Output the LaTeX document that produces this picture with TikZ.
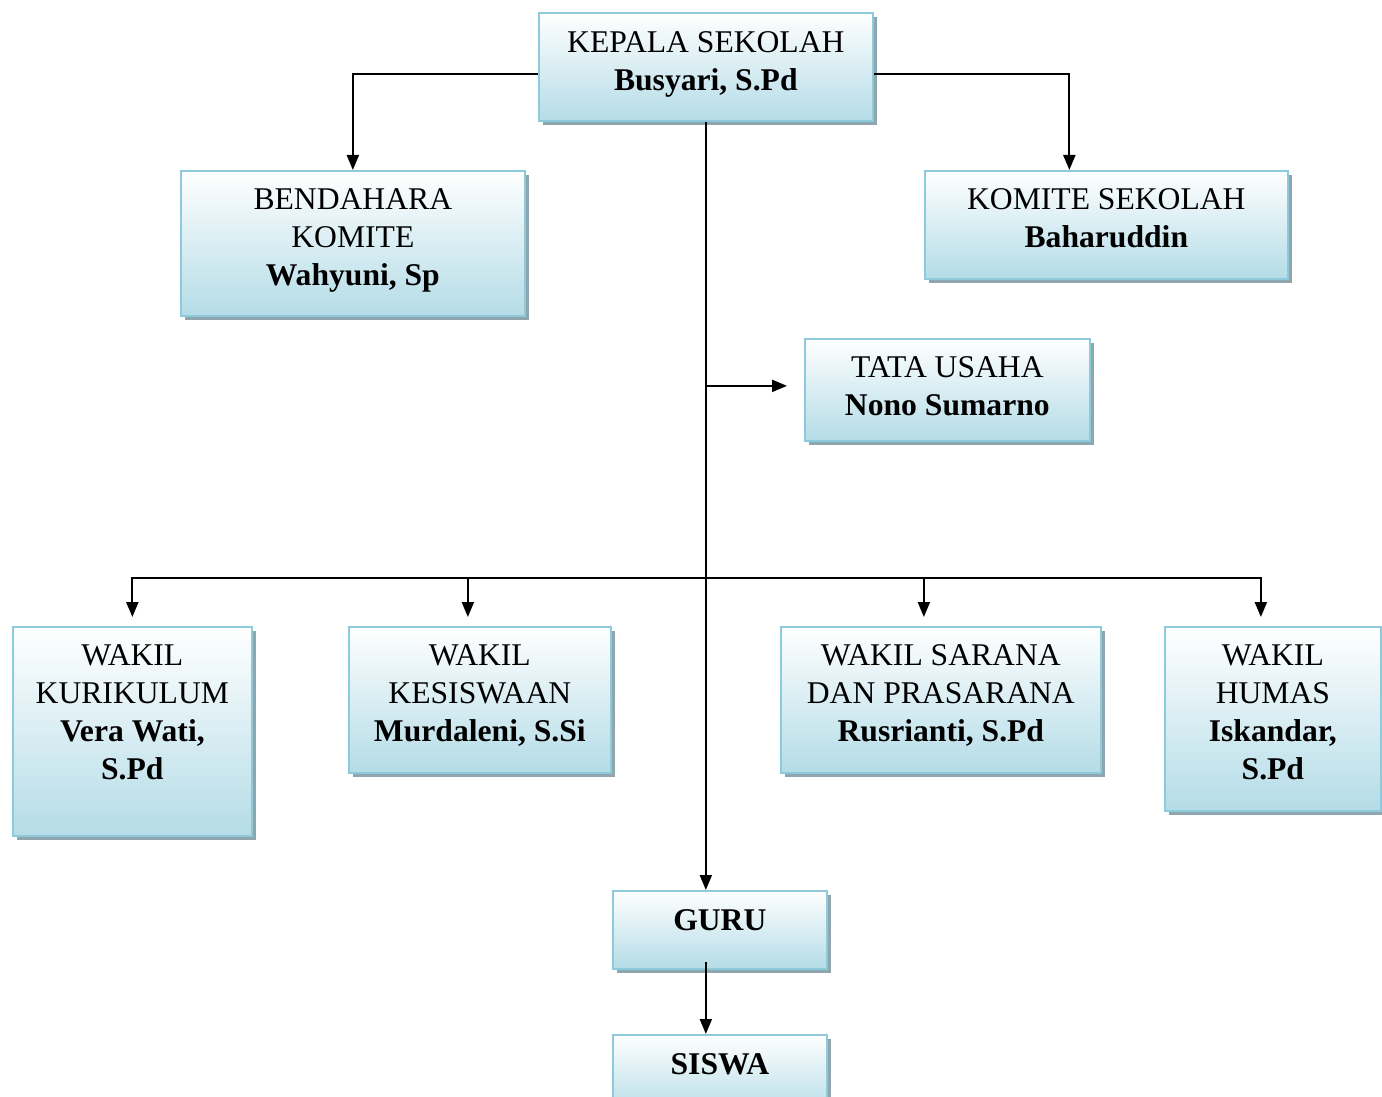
\documentclass[tikz,border=0pt]{standalone}
\usepackage{fontspec}
\setmainfont{Liberation Serif}
\usetikzlibrary{arrows.meta,shadows}
\definecolor{boxblue}{HTML}{B4DCE7}
\definecolor{boxline}{HTML}{8DCADB}
\definecolor{shadowcol}{HTML}{8FA6AF}
\tikzset{
  orgbox/.style={draw=boxline, line width=1pt, top color=white, bottom color=boxblue,
    anchor=north west, inner sep=0pt,
    drop shadow={shadow xshift=0.08cm, shadow yshift=-0.08cm, fill=shadowcol, opacity=1}},
  orgtxt/.style={anchor=north, inner sep=0pt, align=center, yshift=-0.38cm,
    font=\fontsize{18}{21.6}\selectfont},
  link/.style={line width=1.2pt, -{Triangle[length=0.3cm,width=0.24cm]}}
}
\begin{document}
\begin{tikzpicture}[x=0.02cm, y=-0.02cm]
  \useasboundingbox (0,0) rectangle (1382,1097);
  % boxes
  \node[orgbox, minimum width=6.68cm, minimum height=2.16cm] (kepala) at (538,12) {};
  \node[orgbox, minimum width=6.88cm, minimum height=2.90cm] (bendahara) at (180,170) {};
  \node[orgbox, minimum width=7.26cm, minimum height=2.16cm] (komite) at (924,170) {};
  \node[orgbox, minimum width=5.70cm, minimum height=2.04cm] (tata) at (804,338) {};
  \node[orgbox, minimum width=4.78cm, minimum height=4.18cm] (kurikulum) at (12,626) {};
  \node[orgbox, minimum width=5.24cm, minimum height=2.92cm] (kesiswaan) at (348,626) {};
  \node[orgbox, minimum width=6.40cm, minimum height=2.92cm] (sarana) at (780,626) {};
  \node[orgbox, minimum width=4.32cm, minimum height=3.68cm] (humas) at (1164,626) {};
  \node[orgbox, minimum width=4.28cm, minimum height=1.56cm] (guru) at (612,890) {};
  \node[orgbox, minimum width=4.28cm, minimum height=1.60cm] (siswa) at (612,1034) {};
  % texts
  \node[orgtxt] (kepalaT) at (kepala.north) {KEPALA SEKOLAH\\\textbf{Busyari, S.Pd}};
  \node[orgtxt, yshift=0.02cm] (bendaharaT) at (bendahara.north) {BENDAHARA\\KOMITE\\\textbf{Wahyuni, Sp}};
  \node[orgtxt, yshift=0.02cm] (komiteT) at (komite.north) {KOMITE SEKOLAH\\\textbf{Baharuddin}};
  \node[orgtxt, yshift=0.02cm] (tataT) at (tata.north) {TATA USAHA\\\textbf{Nono Sumarno}};
  \node[orgtxt, yshift=0.02cm] (kurikulumT) at (kurikulum.north) {WAKIL\\KURIKULUM\\\textbf{Vera Wati,}\\\textbf{S.Pd}};
  \node[orgtxt, yshift=0.02cm] (kesiswaanT) at (kesiswaan.north) {WAKIL\\KESISWAAN\\\textbf{Murdaleni, S.Si}};
  \node[orgtxt, yshift=0.02cm] (saranaT) at (sarana.north) {WAKIL SARANA\\DAN PRASARANA\\\textbf{Rusrianti, S.Pd}};
  \node[orgtxt, yshift=0.02cm] (humasT) at (humas.north) {WAKIL\\HUMAS\\\textbf{Iskandar,}\\\textbf{S.Pd}};
  \node[orgtxt] (guruT) at (guru.north) {\textbf{GURU}};
  \node[orgtxt] (siswaT) at (siswa.north) {\textbf{SISWA}};
  % connectors
  \coordinate (bar) at (705,578);
  \draw[link] ([yshift=-0.14cm]kepala.west) -| (bendahara.north);
  \draw[link] ([yshift=-0.14cm]kepala.east) -| ([xshift=-0.74cm]komite.north);
  \draw[link] (kepala.south) -- (kepala.south |- guru.north);
  \draw[link, shorten >=0.34cm] ([yshift=0.08cm]kepala.south |- tata.west) -- ([yshift=0.08cm]tata.west);
  \draw[link, shorten >=0.18cm] (bar) -| (kurikulum.north);
  \draw[link, shorten >=0.18cm] (bar) -| ([xshift=-0.24cm]kesiswaan.north);
  \draw[link, shorten >=0.18cm] (bar) -| ([xshift=-0.34cm]sarana.north);
  \draw[link, shorten >=0.18cm] (bar) -| ([xshift=-0.24cm]humas.north);
  \draw[link] ([yshift=0.16cm]kepala.south |- guru.south) -- (kepala.south |- siswa.north);
\end{tikzpicture}
\end{document}
